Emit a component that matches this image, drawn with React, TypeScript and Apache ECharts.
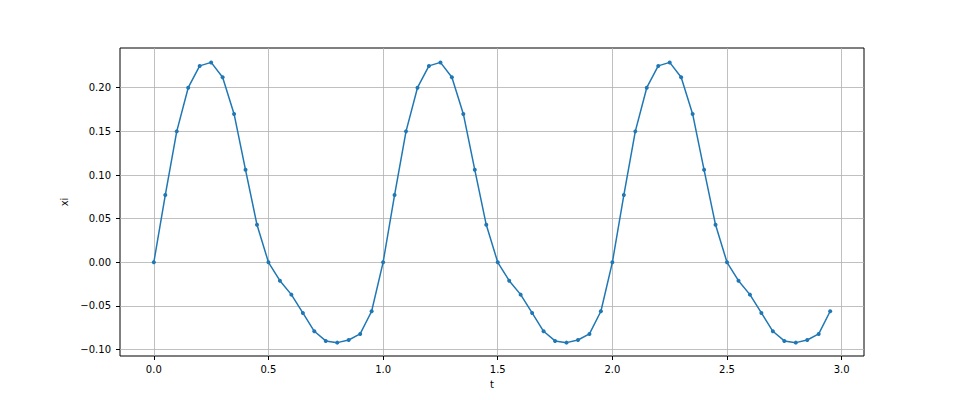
import React, { useEffect, useRef } from "react";
import * as echarts from "echarts";

// One period of xi(t), t = 0, 0.05, ..., 0.95
const periodValues: number[] = [
  0.0, 0.077, 0.15, 0.2, 0.225, 0.229, 0.212, 0.17, 0.106, 0.043,
  0.0, -0.021, -0.037, -0.058, -0.079, -0.09, -0.092, -0.089, -0.082, -0.056,
];
const tValues: number[] = [];
for (let i = 0; i < 60; i++) tValues.push(Math.round(i * 5) / 100);
const xiValues: number[] = [
  ...periodValues,
  ...periodValues,
  ...periodValues,
];

const xTicks: number[] = [0, 0.5, 1.0, 1.5, 2.0, 2.5, 3.0];
const yTicks: number[] = [-0.1, -0.05, 0, 0.05, 0.1, 0.15, 0.2];

const xMin = -0.1475;
const xMax = 3.0975;
const yMin = -0.1073;
const yMax = 0.2455;

const FONT = "DejaVu Sans";

const fmt = (v: number, d: number) => {
  const s = Math.abs(v).toFixed(d);
  return v < -1e-9 ? "\u2212" + s : s;
};

export default function App() {
  const ref = useRef<HTMLDivElement>(null);
  useEffect(() => {
    if (!ref.current) return;
    const chart = echarts.init(ref.current, null, { renderer: "svg" });
    const data = tValues.map((t, i) => [t, xiValues[i]]);
    chart.setOption({
      animation: false,
      backgroundColor: "#ffffff",
      grid: {
        left: 120,
        right: 96,
        top: 48,
        bottom: 44,
        show: true,
        borderColor: "#000000",
        borderWidth: 1,
        backgroundColor: "transparent",
      },
      xAxis: {
        type: "value",
        min: xMin,
        max: xMax,
        splitNumber: 5,
        name: "t",
        nameLocation: "middle",
        nameGap: 23,
        nameTextStyle: { fontFamily: FONT, fontSize: 10, color: "#000" },
        axisLine: { show: false, onZero: false },
        axisTick: {
          show: true,
          length: 4,
          customValues: xTicks,
          lineStyle: { color: "#000", width: 1 },
        },
        axisLabel: {
          customValues: xTicks,
          margin: 8,
          fontFamily: FONT,
          fontSize: 10,
          color: "#000",
          formatter: (v: number) => fmt(v, 1),
        },
        splitLine: { show: true, lineStyle: { color: "#b0b0b0", width: 0.8 } },
      },
      yAxis: {
        type: "value",
        min: yMin,
        max: yMax,
        splitNumber: 7,
        name: "xi",
        nameLocation: "middle",
        nameGap: 51,
        nameRotate: 90,
        nameTextStyle: { fontFamily: FONT, fontSize: 10, color: "#000" },
        axisLine: { show: false, onZero: false },
        axisTick: {
          show: true,
          length: 4,
          customValues: yTicks,
          lineStyle: { color: "#000", width: 1 },
        },
        axisLabel: {
          customValues: yTicks,
          margin: 9,
          fontFamily: FONT,
          fontSize: 10,
          color: "#000",
          formatter: (v: number) => fmt(v, 2),
        },
        splitLine: { show: true, lineStyle: { color: "#b0b0b0", width: 0.8 } },
      },
      series: [
        {
          type: "line",
          data,
          symbol: "circle",
          symbolSize: 4,
          showSymbol: true,
          lineStyle: { color: "#1f77b4", width: 1.5 },
          itemStyle: { color: "#1f77b4" },
        },
      ],
    });
    return () => chart.dispose();
  }, []);
  return (
    <div
      ref={ref}
      style={{ position: "fixed", left: 0, top: 0, width: 960, height: 400 }}
    />
  );
}
